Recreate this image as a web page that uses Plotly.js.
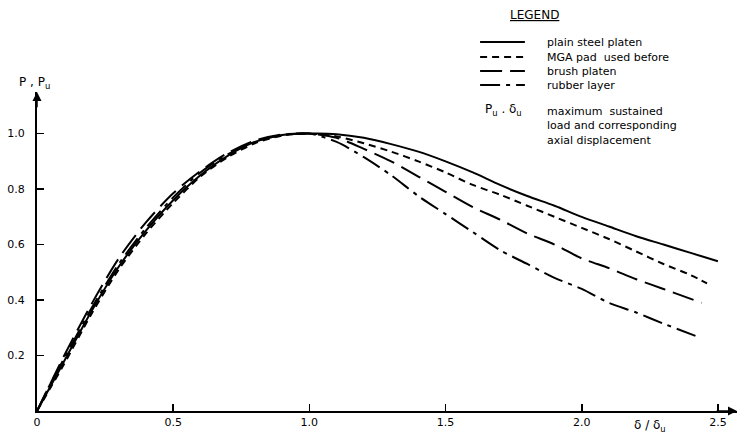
<!DOCTYPE html>
<html>
<head>
<meta charset="utf-8">
<script src="https://cdn.plot.ly/plotly-3.0.1.min.js"></script>
<style>html,body{margin:0;padding:0;background:#fff;}#chart{width:740px;height:436px;}</style>
</head>
<body>
<div id="chart"></div>
<script>
// Normalised displacement δ/δu and load P/Pu
const plainX  = [0, 0.05, 0.1, 0.2, 0.3, 0.4, 0.5, 0.6, 0.7, 0.8, 0.9, 1.0, 1.1, 1.2, 1.3, 1.4, 1.5, 1.6, 1.7, 1.8, 1.9, 2.0, 2.1, 2.2, 2.3, 2.4, 2.5];
const plainY  = [0, 0.09, 0.18, 0.36, 0.52, 0.65, 0.76, 0.85, 0.92, 0.97, 0.995, 1.0, 0.998, 0.985, 0.962, 0.935, 0.90, 0.86, 0.815, 0.775, 0.74, 0.70, 0.665, 0.63, 0.60, 0.57, 0.54];

const mgaX    = [0, 0.05, 0.1, 0.2, 0.3, 0.4, 0.5, 0.6, 0.7, 0.8, 0.9, 1.0, 1.1, 1.2, 1.3, 1.4, 1.5, 1.6, 1.7, 1.8, 1.9, 2.0, 2.1, 2.2, 2.3, 2.4, 2.46];
const mgaY    = [0, 0.085, 0.17, 0.35, 0.51, 0.64, 0.75, 0.845, 0.915, 0.965, 0.993, 1.0, 0.99, 0.965, 0.935, 0.90, 0.86, 0.815, 0.78, 0.74, 0.70, 0.66, 0.62, 0.575, 0.53, 0.49, 0.46];

const brushX  = [0, 0.05, 0.1, 0.2, 0.3, 0.4, 0.5, 0.6, 0.7, 0.8, 0.9, 1.0, 1.1, 1.2, 1.3, 1.4, 1.5, 1.6, 1.7, 1.8, 1.9, 2.0, 2.1, 2.2, 2.3, 2.44];
const brushY  = [0, 0.10, 0.20, 0.385, 0.55, 0.68, 0.785, 0.865, 0.93, 0.975, 0.997, 1.0, 0.985, 0.945, 0.90, 0.845, 0.79, 0.735, 0.69, 0.64, 0.60, 0.55, 0.515, 0.475, 0.44, 0.39];

const rubberX = [0, 0.05, 0.1, 0.2, 0.3, 0.4, 0.5, 0.6, 0.7, 0.8, 0.9, 1.0, 1.1, 1.2, 1.3, 1.4, 1.5, 1.6, 1.7, 1.8, 1.9, 2.0, 2.1, 2.2, 2.3, 2.42];
const rubberY = [0, 0.10, 0.19, 0.37, 0.53, 0.66, 0.77, 0.86, 0.925, 0.97, 0.995, 1.0, 0.97, 0.915, 0.85, 0.775, 0.71, 0.645, 0.58, 0.53, 0.48, 0.44, 0.39, 0.355, 0.315, 0.27];

const seriesNames = ["plain steel platen", "MGA pad  used before", "brush platen", "rubber layer"];
const seriesDash = ["solid", "7px,5px", "22px,8px", "20px,6px,4px,6px"];
const xTickVals = [0, 0.5, 1.0, 1.5, 2.0, 2.5];
const xTickText = ["0", "0.5", "1.0", "1.5", "2.0", "2.5"];
const yTickVals = [0.2, 0.4, 0.6, 0.8, 1.0];
const yTickText = ["0.2", "0.4", "0.6", "0.8", "1.0"];

const FONT = "DejaVu Sans, Liberation Sans, sans-serif";
const mk = (x, y, name, dash) => ({
  x: x, y: y, name: name, type: "scatter", mode: "lines",
  line: {color: "#000", width: 2, dash: dash, shape: "spline", smoothing: 0.8},
  hoverinfo: "skip"
});

const data = [
  mk(plainX, plainY, seriesNames[0], seriesDash[0]),
  mk(mgaX, mgaY, seriesNames[1], seriesDash[1]),
  mk(brushX, brushY, seriesNames[2], seriesDash[2]),
  mk(rubberX, rubberY, seriesNames[3], seriesDash[3])
];

// hand-drawn style legend (samples + labels) in paper coordinates
const legY = [1.1567, 1.1097, 1.0658, 1.0219];
const shapes = [];
const legendAnn = [];
seriesNames.forEach((n, i) => {
  shapes.push({type: "line", xref: "paper", yref: "paper",
    x0: 0.633, x1: 0.697, y0: legY[i], y1: legY[i],
    line: {color: "#000", width: 2, dash: seriesDash[i]}});
  legendAnn.push({x: 0.7257, y: legY[i], xref: "paper", yref: "paper",
    xanchor: "left", yanchor: "middle", text: n, showarrow: false,
    font: {family: FONT, size: 11, color: "#000"}});
});

const layout = {
  width: 740, height: 436,
  margin: {l: 37, r: 3, t: 92, b: 25, pad: 0},
  paper_bgcolor: "#fff", plot_bgcolor: "#fff",
  font: {family: FONT, size: 11, color: "#000"},
  showlegend: false,
  xaxis: {range: [0, 2.57], showgrid: false, zeroline: false,
          showline: true, linecolor: "#000", linewidth: 2,
          ticks: "inside", ticklen: 7, tickwidth: 1.5, tickcolor: "#000",
          tickmode: "array", tickvals: xTickVals, ticktext: xTickText,
          tickfont: {family: FONT, size: 11, color: "#000"}, fixedrange: true},
  yaxis: {range: [0, 1.15], showgrid: false, zeroline: false,
          showline: true, linecolor: "#000", linewidth: 2,
          ticks: "inside", ticklen: 7, tickwidth: 1.5, tickcolor: "#000",
          tickmode: "array", tickvals: yTickVals, ticktext: yTickText,
          ticklabelstandoff: 8,
          tickfont: {family: FONT, size: 11, color: "#000"}, fixedrange: true},
  shapes: shapes,
  annotations: legendAnn.concat([
    {x: 2.57, y: 0, ax: 2.49, ay: 0, xref: "x", yref: "y", axref: "x", ayref: "y",
     text: "", showarrow: true, arrowhead: 2, arrowsize: 1.2, arrowwidth: 1.5, arrowcolor: "#000"},
    {x: 0, y: 1.15, ax: 0, ay: 1.09, xref: "x", yref: "y", axref: "x", ayref: "y",
     text: "", showarrow: true, arrowhead: 2, arrowsize: 1.2, arrowwidth: 1.5, arrowcolor: "#000"},
    {x: -0.003, y: 1.028, xref: "paper", yref: "paper", xanchor: "center", yanchor: "middle",
     text: "P , P<sub>u</sub>", showarrow: false, font: {family: FONT, size: 12, color: "#000"}},
    {x: 2.25, y: 0, xref: "x", yref: "y", xanchor: "center", yanchor: "top", yshift: -5,
     text: "δ / δ<sub>u</sub>", showarrow: false, font: {family: FONT, size: 12, color: "#000"}},
    {x: 0.711, y: 1.2414, xref: "paper", yref: "paper", xanchor: "center", yanchor: "middle",
     text: "<u>LEGEND</u>", showarrow: false, font: {family: FONT, size: 12, color: "#000"}},
    {x: 0.666, y: 0.9436, xref: "paper", yref: "paper", xanchor: "center", yanchor: "middle",
     text: "P<sub>u</sub> . δ<sub>u</sub>", showarrow: false, font: {family: FONT, size: 12, color: "#000"}},
    {x: 0.7257, y: 0.9655, xref: "paper", yref: "paper", xanchor: "left", yanchor: "top",
     align: "left",
     text: "maximum  sustained<br>load and corresponding<br>axial displacement",
     showarrow: false, font: {family: FONT, size: 11, color: "#000"}}
  ])
};

Plotly.newPlot("chart", data, layout, {staticPlot: true, displayModeBar: false});
</script>
</body>
</html>
